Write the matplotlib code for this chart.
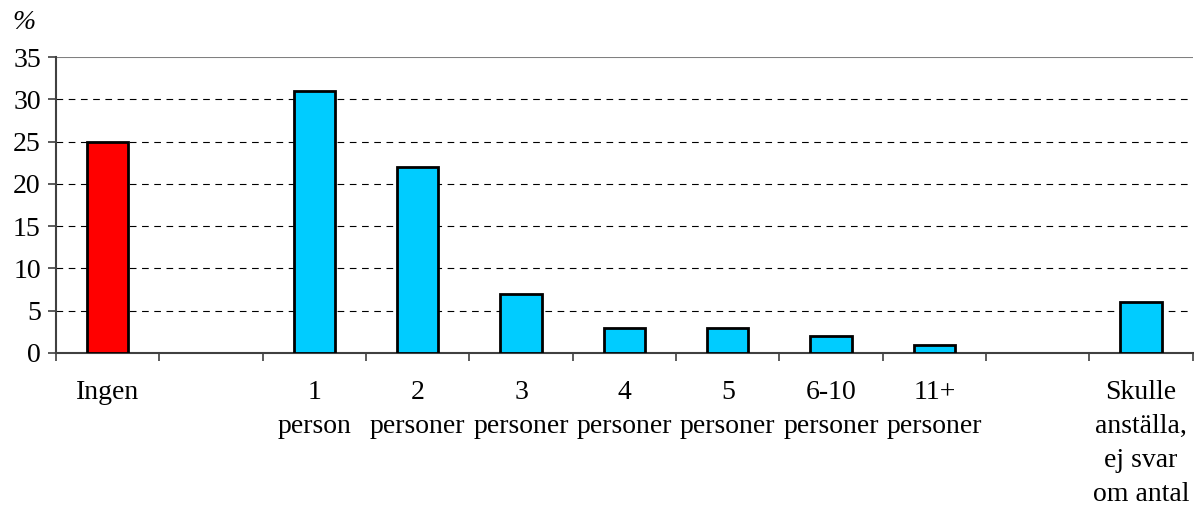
import numpy as np
import matplotlib
matplotlib.use("Agg")
import matplotlib.pyplot as plt

plt.rcParams['font.family'] = ['Liberation Serif', 'DejaVu Serif']

# categories (empty strings are gaps in the chart)
categories = ["Ingen", "", "1\nperson", "2\npersoner", "3\npersoner", "4\npersoner",
              "5\npersoner", "6-10\npersoner", "11+\npersoner", "",
              "Skulle\nanställa,\nej svar\nom antal"]
values = [25, np.nan, 31, 22, 7, 3, 3, 2, 1, np.nan, 6]
colors = ["#ff0000", "#00ccff", "#00ccff", "#00ccff", "#00ccff", "#00ccff",
          "#00ccff", "#00ccff", "#00ccff", "#00ccff", "#00ccff"]
yticks = [0, 5, 10, 15, 20, 25, 30, 35]

fig = plt.figure(figsize=(11.94, 5.05), dpi=100)
ax = fig.add_axes([0.047, 0.301, 0.952, 0.586])

x = np.arange(len(categories))
ax.bar(x, values, width=0.4, color=colors, edgecolor="black", linewidth=2, zorder=3)

ax.set_xlim(-0.5, len(categories) - 0.5)
ax.set_ylim(0, 35)
ax.set_yticks(yticks)
ax.set_yticklabels([str(t) for t in yticks], fontsize=20)

# dashed gridlines, solid line at top
for t in yticks[1:-1]:
    ax.axhline(t, color="black", linestyle=(0, (6, 5)), linewidth=0.8, zorder=1)
ax.axhline(35, color="#808080", linewidth=1.5, zorder=1)

# category labels in the middle, ticks on the boundaries
ax.set_xticks(np.arange(len(categories) + 1) - 0.5)
ax.set_xticklabels([])
ax.tick_params(axis="x", direction="out", length=6, width=1.2, color="#404040")
ax.tick_params(axis="y", direction="out", length=6, width=1.2, color="#404040", pad=5)
for i, lab in enumerate(categories):
    ax.text(i, -3.2, lab, ha="center", va="top", fontsize=20, linespacing=1.47)

for s in ["top", "right"]:
    ax.spines[s].set_visible(False)
for s in ["left", "bottom"]:
    ax.spines[s].set_color("#404040")
    ax.spines[s].set_linewidth(1.5)

fig.text(0.01, 0.955, "%", fontsize=20, style="italic", va="center")

fig.savefig("out.png", dpi=100)
